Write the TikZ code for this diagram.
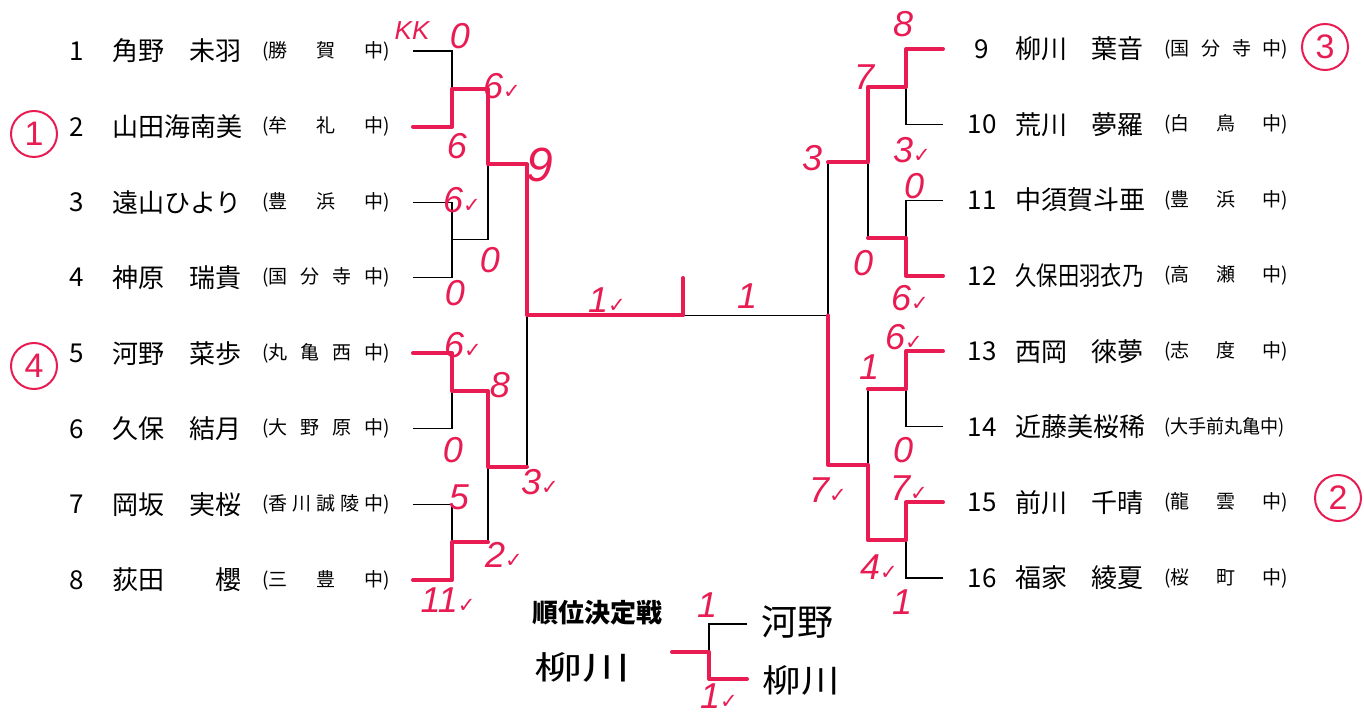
\documentclass[tikz,border=0pt]{standalone}
\usepackage{fontspec}
\usepackage{graphicx}
\setmainfont{Noto Sans CJK JP}
\newfontfamily\handfont{Liberation Sans}
\newfontfamily\symfont{DejaVu Sans}
\newcommand{\ok}{{\symfont\upshape\fontsize{10.5}{10.5}\selectfont ✓}}
\definecolor{marker}{RGB}{232,28,82}

\tikzset{
  bline/.style={line width=0.6pt},
  win/.style={line width=2pt, draw=marker, line cap=round, line join=round},
  num/.style={inner sep=0pt, font=\fontsize{13}{13}\selectfont},
  pname/.style={inner sep=0pt, anchor=west, font=\fontsize{13}{13}\selectfont},
  school/.style={inner sep=0pt, anchor=west, font=\fontsize{9.5}{9.5}\selectfont},
  score/.style={inner sep=0pt, text=marker, font=\handfont\itshape\fontsize{18}{18}\selectfont},
  rank/.style={circle, draw=marker, line width=1pt, minimum size=23pt, inner sep=0pt,
    text=marker, font=\handfont\fontsize{17}{17}\selectfont},
  hand/.style={inner sep=0pt, font=\fontsize{16}{16}\selectfont}
}

\begin{document}
\begin{tikzpicture}[x=0.5pt, y=-0.5pt]

    \useasboundingbox (0,0) rectangle (1364,716);

    % Players on the left side
    \foreach \n/\nm/\sc [count=\i from 0] in {
        1/{角野\hfill{}未羽}/{(勝\hfill{}賀\hfill{}中)},
        2/{山田海南美}/{(牟\hfill{}礼\hfill{}中)},
        3/{遠山ひより}/{(豊\hfill{}浜\hfill{}中)},
        4/{神原\hfill{}瑞貴}/{(国\hfill{}分\hfill{}寺\hfill{}中)},
        5/{河野\hfill{}菜歩}/{(丸\hfill{}亀\hfill{}西\hfill{}中)},
        6/{久保\hfill{}結月}/{(大\hfill{}野\hfill{}原\hfill{}中)},
        7/{岡坂\hfill{}実桜}/{(香\hfill{}川\hfill{}誠\hfill{}陵\hfill{}中)},
        8/{荻田\hfill{}櫻}/{(三\hfill{}豊\hfill{}中)}} {
        \pgfmathsetmacro{\y}{51+75.57*\i}
        \node[num] (n\n) at (77,\y) {\n};
        \node[pname] (name\n) at (112,\y) {\makebox[64.5pt][s]{\nm}};
        \node[school] (sch\n) at (262,\y) {\makebox[64pt][s]{\sc}};
        \coordinate (p\n) at (413,\y);
    }

    % Players on the right side
    \foreach \n/\nm/\sc [count=\i from 0] in {
        9/{柳川\hfill{}葉音}/{(国\hfill{}分\hfill{}寺\hfill{}中)},
        10/{荒川\hfill{}夢羅}/{(白\hfill{}鳥\hfill{}中)},
        11/{中須賀斗亜}/{(豊\hfill{}浜\hfill{}中)},
        12/{\scalebox{0.82}[1]{久保田羽衣乃}}/{(高\hfill{}瀬\hfill{}中)},
        13/{西岡\hfill{}徠夢}/{(志\hfill{}度\hfill{}中)},
        14/{近藤美桜稀}/{\scalebox{0.95}[1]{(大手前丸亀中)}},
        15/{前川\hfill{}千晴}/{(龍\hfill{}雲\hfill{}中)},
        16/{福家\hfill{}綾夏}/{(桜\hfill{}町\hfill{}中)}} {
        \pgfmathsetmacro{\y}{49+75.57*\i}
        \node[num] (n\n) at (982,\y) {\n};
        \node[pname] (name\n) at (1015,\y) {\makebox[64pt][s]{\nm}};
        \node[school] (sch\n) at (1164,\y) {\makebox[62pt][s]{\sc}};
        \coordinate (p\n) at (943,\y);
    }

    % Joins of the bracket
    \coordinate (j1) at (452,88.8);
    \coordinate (j2) at (452,239.9);
    \coordinate (j3) at (452,391.1);
    \coordinate (j4) at (452,542.2);
    \coordinate (k1) at (488,164.4);
    \coordinate (k2) at (488,466.6);
    \coordinate (f1) at (527,315.5);
    \coordinate (j5) at (906,86.8);
    \coordinate (j6) at (906,237.9);
    \coordinate (j7) at (906,389.1);
    \coordinate (j8) at (906,540.2);
    \coordinate (k3) at (868,162.4);
    \coordinate (k4) at (868,464.6);
    \coordinate (f2) at (828,315.5);
    \coordinate (c) at (683,315.5);
    \coordinate (ct) at (683,278);

    % Draw the bracket lines
    \draw[bline] (p1) -| (j1) |- (p2);
    \draw[bline] (p3) -| (j2) |- (p4);
    \draw[bline] (p5) -| (j3) |- (p6);
    \draw[bline] (p7) -| (j4) |- (p8);
    \draw[bline] (j1) -| (k1) |- (j2);
    \draw[bline] (j3) -| (k2) |- (j4);
    \draw[bline] (k1) -| (f1) |- (k2);
    \draw[bline] (p9) -| (j5) |- (p10);
    \draw[bline] (p11) -| (j6) |- (p12);
    \draw[bline] (p13) -| (j7) |- (p14);
    \draw[bline] (p15) -| (j8) |- (p16);
    \draw[bline] (j5) -| (k3) |- (j6);
    \draw[bline] (j7) -| (k4) |- (j8);
    \draw[bline] (k3) -| (f2) |- (k4);
    \draw[bline] (f1) -- (f2);
    \draw[bline] (c) -- (ct);

    % Winners marked in red
    \draw[win] (p2) -| (j1) -- (j1 -| k1) -- (k1) -- (f1 |- k1) -- (f1) -- (c) -- (ct);
    \draw[win] (p5) -| (j3) -- (j3 -| k2) -- (k2) -- (f1 |- k2);
    \draw[win] (p8) -| (j4) -- (j4 -| k2);
    \draw[win] (p9) -| (j5) -- (j5 -| k3) -- (k3) -- (f2 |- k3);
    \draw[win] (p12) -| (j6) -- (j6 -| k3);
    \draw[win] (p13) -| (j7) -- (j7 -| k4);
    \draw[win] (p15) -| (j8) -- (j8 -| k4) -- (k4) -- (f2 |- k4) -- (f2);

    % Scores
    \foreach \x/\y/\t [count=\s] in {460/36/0, 502/86/6\ok, 457/146/6,
        462/200/6\ok, 490/260/0, 455/293/0, 607/300/1\ok, 747/296/1,
        463/345/6\ok, 500/385/8, 453/450/0, 540/482/3\ok, 459/497/5,
        504/555/2\ok, 448/600/11\ok, 903/24/8, 864/77/7, 912/150/3\ok,
        812/158/3, 914/186/0, 863/263/0, 910/298/6\ok, 904/337/6\ok,
        869/367/1, 903/450/0, 828/490/7\ok, 909/488/7\ok, 879/567/4\ok,
        902/602/1, 707/605/1, 719/696/1\ok} {
        \node[score] (s\s) at (\x,\y) {\t};
    }
    \node[score, font=\handfont\itshape\fontsize{13}{13}\selectfont] (kk) at (412,31) {KK};
    \node[score, font=\handfont\itshape\fontsize{24}{24}\selectfont] (nine) at (540,165) {9};

    % Circled ranks
    \node[rank] (r1) at (34,134) {1};
    \node[rank] (r4) at (34,366) {4};
    \node[rank] (r3) at (1325,47) {3};
    \node[rank] (r2) at (1338,498) {2};

    % Third place play-off
    \node[inner sep=0pt, font=\bfseries\fontsize{13}{13}\selectfont] (title) at (597,613) {順位決定戦};
    \coordinate (t1) at (747,624);
    \coordinate (t2) at (747,679);
    \coordinate (tj) at (709,652);
    \coordinate (tl) at (672,652);
    \draw[bline] (t1) -| (tj) |- (t2);
    \draw[bline] (tl) -- (tj);
    \draw[win] (tl) -- (tj) |- (t2);
    \node[hand, font=\fontsize{18}{18}\selectfont] (kono) at (797,622) {河野};
    \node[hand] (yana1) at (582,667) {\scalebox{1.5}[1]{柳川}};
    \node[hand] (yana2) at (801,680) {\scalebox{1.2}[1]{柳川}};

\end{tikzpicture}
\end{document}
